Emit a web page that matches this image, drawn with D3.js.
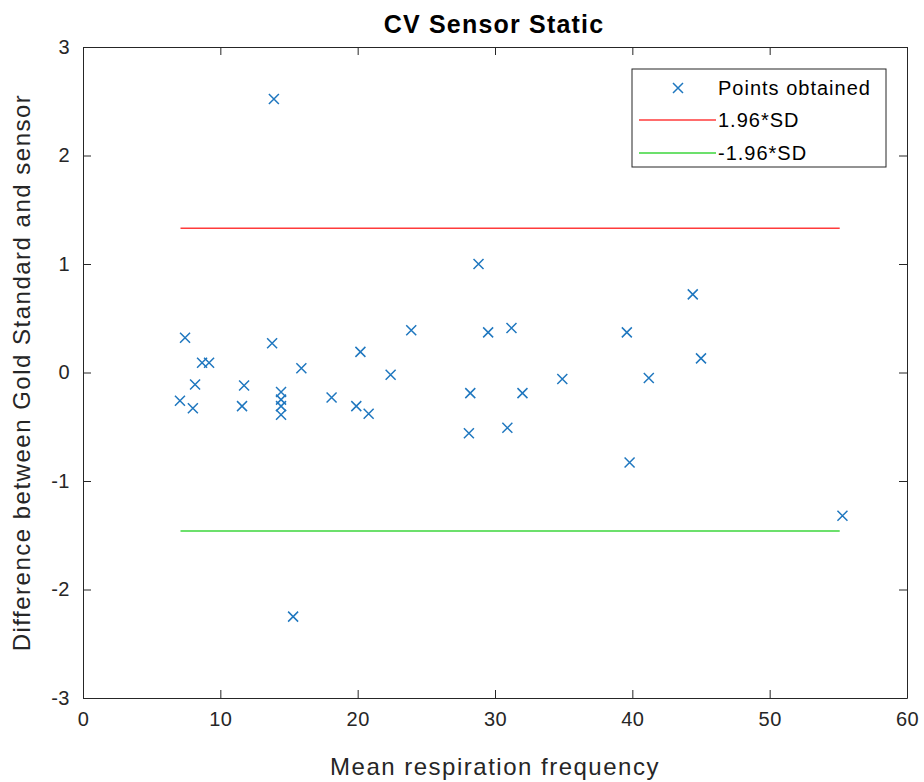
<!DOCTYPE html>
<html>
<head>
<meta charset="utf-8">
<script src="https://cdn.jsdelivr.net/npm/d3@7"></script>
<style>
  body { margin: 0; background: #fff; }
  text { font-family: "Liberation Sans", Arial, sans-serif; }
</style>
</head>
<body>
<svg id="chart" width="924" height="782"></svg>
<script>
// mean respiration frequency (x) and difference (y) for each point
var meanFreq = [7.06, 7.43, 8.0, 8.16, 8.67, 9.18, 11.58, 11.73, 13.77, 13.9,
  14.42, 14.42, 14.42, 14.42, 15.3, 15.9, 18.1, 19.9, 20.2, 20.8,
  22.4, 23.9, 28.1, 28.2, 28.8, 29.5, 30.9, 31.2, 32.0, 34.9,
  39.6, 39.8, 41.2, 44.4, 45.0, 55.3];
var difference = [-0.26, 0.32, -0.33, -0.11, 0.09, 0.09, -0.31, -0.12, 0.27, 2.52,
  -0.18, -0.25, -0.31, -0.39, -2.25, 0.04, -0.23, -0.31, 0.19, -0.38,
  -0.02, 0.39, -0.56, -0.19, 1.0, 0.37, -0.51, 0.41, -0.19, -0.06,
  0.37, -0.83, -0.05, 0.72, 0.13, -1.32];
var upperLimit = 1.33;   // 1.96*SD
var lowerLimit = -1.46;  // -1.96*SD
var limitRange = [7.1, 55.1];
var xTicks = [0, 10, 20, 30, 40, 50, 60];
var yTicks = [-3, -2, -1, 0, 1, 2, 3];

var svg = d3.select("#chart");
var margin = {top: 47, right: 17, bottom: 84, left: 83};
var width = 924 - margin.left - margin.right,
    height = 782 - margin.top - margin.bottom;

var g = svg.append("g")
  .attr("transform", "translate(" + margin.left + "," + margin.top + ")");

var x = d3.scaleLinear().domain([0, 60]).range([0, width]);
var y = d3.scaleLinear().domain([-3, 3]).range([height, 0]);

// axes, matlab style: ticks inward on all four sides
var tickLen = 8;
var plain = function (d) { return String(d); };
function styleAxis(sel) {
  sel.select(".domain").attr("stroke", "#262626").attr("stroke-width", 1);
  sel.selectAll(".tick line").attr("stroke", "#262626");
  sel.selectAll(".tick text").attr("fill", "#262626")
    .style("font-size", "20px").style("letter-spacing", "0.5px");
}
g.append("g").attr("transform", "translate(0," + height + ")")
  .call(d3.axisBottom(x).tickValues(xTicks).tickFormat(plain).tickSize(-tickLen).tickPadding(14).tickSizeOuter(0))
  .call(styleAxis);
g.append("g")
  .call(d3.axisLeft(y).tickValues(yTicks).tickFormat(plain).tickSize(-tickLen).tickPadding(13).tickSizeOuter(0))
  .call(styleAxis);
g.append("g")
  .call(d3.axisTop(x).tickValues(xTicks).tickSize(-tickLen).tickFormat("").tickSizeOuter(0))
  .call(styleAxis);
g.append("g").attr("transform", "translate(" + width + ",0)")
  .call(d3.axisRight(y).tickValues(yTicks).tickSize(-tickLen).tickFormat("").tickSizeOuter(0))
  .call(styleAxis);

// limit lines
g.append("line")
  .attr("x1", x(limitRange[0])).attr("x2", x(limitRange[1]))
  .attr("y1", y(upperLimit)).attr("y2", y(upperLimit))
  .attr("stroke", "#ff3b3b").attr("stroke-width", 1.5);
g.append("line")
  .attr("x1", x(limitRange[0])).attr("x2", x(limitRange[1]))
  .attr("y1", y(lowerLimit)).attr("y2", y(lowerLimit))
  .attr("stroke", "#3bd63b").attr("stroke-width", 1.5);

// points as x markers
var s = 5;
function cross(px, py) {
  return "M" + (px - s) + "," + (py - s) + "L" + (px + s) + "," + (py + s) +
    "M" + (px - s) + "," + (py + s) + "L" + (px + s) + "," + (py - s);
}
g.selectAll("path.pt")
  .data(meanFreq)
  .enter().append("path")
  .attr("class", "pt")
  .attr("d", function (d, i) { return cross(x(d), y(difference[i])); })
  .attr("stroke", "#1f77bf").attr("stroke-width", 1.5).attr("fill", "none");

// title and labels
svg.append("text").attr("x", 494).attr("y", 33).attr("text-anchor", "middle")
  .style("font-size", "25px").style("font-weight", "bold").style("letter-spacing", "1.2px")
  .attr("fill", "#000")
  .text("CV Sensor Static");
svg.append("text").attr("x", margin.left + width / 2).attr("y", 775).attr("text-anchor", "middle")
  .style("font-size", "24px").style("letter-spacing", "1.5px").attr("fill", "#262626")
  .text("Mean respiration frequency");
svg.append("text")
  .attr("transform", "translate(30," + (margin.top + height / 2) + ") rotate(-90)")
  .attr("text-anchor", "middle").style("font-size", "24px").style("letter-spacing", "1.5px")
  .attr("fill", "#262626")
  .text("Difference between Gold Standard and sensor");

// legend
var lg = svg.append("g").attr("transform", "translate(632,69)");
lg.append("rect").attr("width", 254).attr("height", 98)
  .attr("fill", "#fff").attr("stroke", "#262626").attr("stroke-width", 1);
var legendItems = ["Points obtained", "1.96*SD", "-1.96*SD"];
var legendY = [19, 51, 84];
lg.append("path").attr("d", cross(46, legendY[0]))
  .attr("stroke", "#1f77bf").attr("stroke-width", 1.5).attr("fill", "none");
lg.append("line").attr("x1", 7).attr("x2", 84).attr("y1", legendY[1]).attr("y2", legendY[1])
  .attr("stroke", "#ff3b3b").attr("stroke-width", 1.5);
lg.append("line").attr("x1", 7).attr("x2", 84).attr("y1", legendY[2]).attr("y2", legendY[2])
  .attr("stroke", "#3bd63b").attr("stroke-width", 1.5);
legendItems.forEach(function (t, i) {
  lg.append("text").attr("x", 86).attr("y", legendY[i] + 7)
    .style("font-size", "20px").style("letter-spacing", "1px").attr("fill", "#000").text(t);
});
</script>
</body>
</html>
